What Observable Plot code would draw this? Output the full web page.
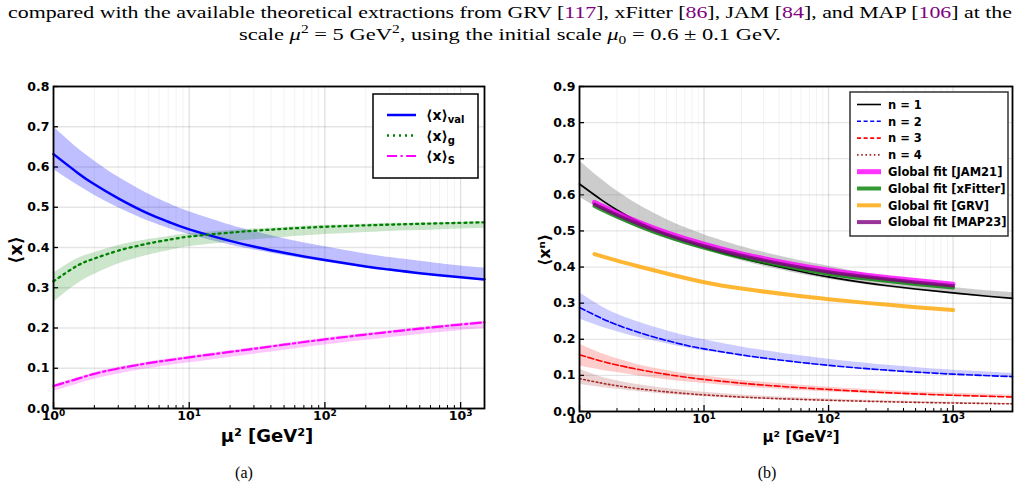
<!DOCTYPE html>
<html>
<head>
<meta charset="utf-8">
<script src="https://cdn.jsdelivr.net/npm/d3@7"></script>
<script src="https://cdn.jsdelivr.net/npm/@observablehq/plot@0.6"></script>
<style>
  body { margin: 0; background: #fff; }
  #page { position: relative; width: 1020px; height: 491px; overflow: hidden; background: #fff; }
  .panel { position: absolute; top: 0; width: 510px; height: 491px; }
  #panelA { left: 0; }
  #panelB { left: 510px; }
  #text { position: absolute; left: 0; top: 0; }
</style>
</head>
<body>
<div id="page">
  <div class="panel" id="panelA"></div>
  <div class="panel" id="panelB"></div>
  <svg id="text" width="1020" height="491"></svg>
</div>
<script>
// ---------- Panel (a): momentum fractions vs. scale ----------
const muA = [1, 1.5, 2, 3, 5, 7, 10, 20, 30, 50, 100, 200, 300, 500, 1000, 1500];
const valMean = [0.632, 0.586, 0.557, 0.522, 0.484, 0.464, 0.445, 0.4164, 0.4023, 0.3868, 0.3687, 0.353, 0.3451, 0.3362, 0.326, 0.3207];
const valHigh = [0.700, 0.647, 0.615, 0.575, 0.533, 0.510, 0.489, 0.456, 0.440, 0.422, 0.4018, 0.384, 0.375, 0.366, 0.354, 0.349];
const valLow  = [0.594, 0.555, 0.530, 0.499, 0.466, 0.448, 0.432, 0.406, 0.394, 0.380, 0.364, 0.349, 0.341, 0.333, 0.324, 0.319];
const gluMean = [0.316, 0.355, 0.3725, 0.392, 0.410, 0.419, 0.427, 0.437, 0.4416, 0.4463, 0.4514, 0.455, 0.4568, 0.4588, 0.4612, 0.4626];
const gluHigh = [0.336, 0.372, 0.387, 0.405, 0.420, 0.427, 0.434, 0.442, 0.446, 0.450, 0.455, 0.458, 0.460, 0.461, 0.463, 0.464];
const gluLow  = [0.264, 0.310, 0.333, 0.359, 0.381, 0.392, 0.402, 0.413, 0.419, 0.425, 0.432, 0.437, 0.440, 0.442, 0.446, 0.4475];
const seaMean = [0.056, 0.0736, 0.0861, 0.0993, 0.1126, 0.1199, 0.127, 0.1406, 0.1485, 0.1585, 0.1717, 0.1837, 0.1904, 0.1984, 0.2086, 0.2139];
const seaHigh = [0.059, 0.0766, 0.0891, 0.1023, 0.1156, 0.1229, 0.130, 0.1436, 0.1515, 0.1615, 0.1747, 0.1867, 0.1934, 0.2014, 0.2116, 0.2169];
const seaLow  = [0.043, 0.0605, 0.0729, 0.086, 0.0992, 0.1064, 0.1134, 0.1268, 0.1346, 0.1445, 0.1575, 0.1694, 0.176, 0.1839, 0.194, 0.1989];

// ---------- Panel (b): moments <x^n> vs. scale, with global fits ----------
const muB = [1, 1.5, 2, 3, 5, 7, 10, 20, 30, 50, 100, 200, 300, 500, 1000, 2000, 3000];
const n1Mean = [0.630, 0.586, 0.558, 0.5246, 0.4902, 0.472, 0.455, 0.4249, 0.4099, 0.3933, 0.3728, 0.3562, 0.3481, 0.3392, 0.3284, 0.3185, 0.3132];
const n1High = [0.694, 0.643, 0.6105, 0.5718, 0.5318, 0.5099, 0.4898, 0.4567, 0.4409, 0.4231, 0.402, 0.381, 0.370, 0.358, 0.3435, 0.3339, 0.3295];
const n1Low  = [0.593, 0.5578, 0.5353, 0.5071, 0.4782, 0.4621, 0.4474, 0.4173, 0.4023, 0.3856, 0.366, 0.3509, 0.3433, 0.3349, 0.325, 0.316, 0.311];
const n2Mean = [0.288, 0.2581, 0.240, 0.2189, 0.1967, 0.1843, 0.1735, 0.1566, 0.1482, 0.1389, 0.1278, 0.1188, 0.1142, 0.1091, 0.1034, 0.0989, 0.0966];
const n2High = [0.329, 0.2911, 0.270, 0.2469, 0.2237, 0.2103, 0.1985, 0.1786, 0.1692, 0.1579, 0.1448, 0.1338, 0.1282, 0.1221, 0.1144, 0.1089, 0.1056];
const n2Low  = [0.256, 0.2341, 0.221, 0.2049, 0.1877, 0.1773, 0.168, 0.1526, 0.1447, 0.1359, 0.125, 0.1162, 0.1117, 0.1067, 0.1012, 0.0969, 0.0946];
const n3Mean = [0.157, 0.1394, 0.1288, 0.1161, 0.1028, 0.0955, 0.0888, 0.0783, 0.0732, 0.0676, 0.061, 0.055, 0.052, 0.0487, 0.0448, 0.0418, 0.0402];
const n3High = [0.186, 0.1604, 0.1458, 0.1291, 0.1138, 0.1055, 0.0983, 0.0863, 0.0807, 0.0746, 0.0675, 0.061, 0.058, 0.0542, 0.0503, 0.0473, 0.0457];
const n3Low  = [0.126, 0.1144, 0.1078, 0.0981, 0.0878, 0.0825, 0.0778, 0.0688, 0.0642, 0.0596, 0.054, 0.0495, 0.047, 0.0447, 0.0418, 0.0398, 0.0387];
const n4Mean = [0.091, 0.0787, 0.0714, 0.0629, 0.0545, 0.050, 0.046, 0.040, 0.0372, 0.0343, 0.031, 0.0283, 0.0269, 0.0253, 0.0235, 0.022, 0.0212];
const n4High = [0.117, 0.0957, 0.0854, 0.0739, 0.0635, 0.058, 0.053, 0.0455, 0.0422, 0.0385, 0.0345, 0.0313, 0.0296, 0.0277, 0.0255, 0.0237, 0.0227];
const n4Low  = [0.0756, 0.0667, 0.0619, 0.0549, 0.048, 0.0445, 0.041, 0.0358, 0.0334, 0.0309, 0.028, 0.0257, 0.0245, 0.0231, 0.0215, 0.0203, 0.0197];

const muFit = [1.32, 1.5, 2, 3, 5, 10, 20, 50, 100, 200, 500, 1000];
const fitJAM21   = [0.579, 0.5696, 0.5496, 0.524, 0.4956, 0.4631, 0.4366, 0.4087, 0.3912, 0.3777, 0.3626, 0.3527];
const fitXFitter = [0.569, 0.5596, 0.5396, 0.514, 0.4856, 0.4536, 0.4271, 0.3992, 0.3817, 0.3682, 0.3531, 0.3432];
const fitGRV     = [0.436, 0.4302, 0.4177, 0.4015, 0.382, 0.3579, 0.3404, 0.3225, 0.311, 0.3008, 0.2889, 0.2808];
const fitMAP23   = [0.574, 0.5646, 0.5446, 0.519, 0.4906, 0.4583, 0.4318, 0.4039, 0.3864, 0.373, 0.3579, 0.348];

// ---------- ticks ----------
const xMajorA = [1, 10, 100, 1000];
const xMajorB = [1, 10, 100, 1000];
const xMinorA = [2,3,4,5,6,7,8,9,20,30,40,50,60,70,80,90,200,300,400,500,600,700,800,900];
const xMinorB = [...xMinorA, 2000, 3000];
const yTicksA = [0, 0.1, 0.2, 0.3, 0.4, 0.5, 0.6, 0.7, 0.8];
const yTicksB = [0, 0.1, 0.2, 0.3, 0.4, 0.5, 0.6, 0.7, 0.8, 0.9];
const powLabel = d => "10^" + Math.round(Math.log10(d));

const rows = (xs, cols) => xs.map((x, i) => {
  const r = {mu: x};
  for (const k in cols) r[k] = cols[k][i];
  return r;
});

const curve = "natural";
const dotted = "2,4";

// shared frame: grid, inward ticks, tick labels
function axes({w, h, m, xMajor, xMinor, yTicks}) {
  const pw = w - m.left - m.right, ph = h - m.top - m.bottom;
  return [
    Plot.gridX(xMinor, {stroke: "#000", strokeOpacity: 0.05, strokeWidth: 1}),
    Plot.gridX(xMajor, {stroke: "#000", strokeOpacity: 0.13, strokeWidth: 1.2}),
    Plot.gridY(yTicks, {stroke: "#000", strokeOpacity: 0.1, strokeWidth: 1.3}),
    Plot.tickY(yTicks, {y: d => d, stroke: "#000", strokeWidth: 1.3, insetRight: pw - 5}),
    Plot.tickX(xMajor, {x: d => d, stroke: "#000", strokeWidth: 1.3, insetTop: ph - 6}),
    Plot.tickX(xMinor, {x: d => d, stroke: "#000", strokeWidth: 1, insetTop: ph - 3}),
    Plot.axisY(yTicks, {tickSize: 0, tickPadding: 4, tickFormat: d3.format(".1f"), label: null}),
    Plot.axisX(xMajor, {tickSize: 0, tickPadding: 3, tickFormat: powLabel, label: null})
  ];
}

// turn "10^k" tick labels into a base with a raised exponent
function superscriptTicks(svg) {
  d3.select(svg).selectAll('g[aria-label="x-axis tick label"] text').each(function () {
    const [base, exp] = this.textContent.split("^");
    const el = d3.select(this).text(base);
    el.append("tspan").attr("dy", "-0.45em").attr("font-size", "9px").text(exp);
  });
}

const fontStyle = {fontFamily: "DejaVu Sans", fontWeight: "bold", fontSize: "12.5px", background: "transparent", overflow: "visible"};

// ---- panel (a) ----
const mA = {left: 53, right: 26, top: 86, bottom: 83};
const dataVal = rows(muA, {mean: valMean, lo: valLow, hi: valHigh});
const dataGlu = rows(muA, {mean: gluMean, lo: gluLow, hi: gluHigh});
const dataSea = rows(muA, {mean: seaMean, lo: seaLow, hi: seaHigh});

const svgA = Plot.plot({
  width: 510, height: 491,
  marginLeft: mA.left, marginRight: mA.right, marginTop: mA.top, marginBottom: mA.bottom,
  x: {type: "log", domain: [1, 1500], label: null},
  y: {domain: [0, 0.8], label: null},
  style: fontStyle,
  marks: [
    ...axes({w: 510, h: 491, m: mA, xMajor: xMajorA, xMinor: xMinorA, yTicks: yTicksA}),
    Plot.areaY(dataVal, {x: "mu", y1: "lo", y2: "hi", fill: "blue", fillOpacity: 0.25, curve}),
    Plot.areaY(dataGlu, {x: "mu", y1: "lo", y2: "hi", fill: "green", fillOpacity: 0.2, curve}),
    Plot.areaY(dataSea, {x: "mu", y1: "lo", y2: "hi", fill: "magenta", fillOpacity: 0.22, curve}),
    Plot.line(dataVal, {x: "mu", y: "mean", stroke: "blue", strokeWidth: 2.5, curve}),
    Plot.line(dataGlu, {x: "mu", y: "mean", stroke: "green", strokeWidth: 2.3, strokeDasharray: dotted, curve}),
    Plot.line(dataSea, {x: "mu", y: "mean", stroke: "magenta", strokeWidth: 2.2, strokeDasharray: "10,3.5,2.2,3.5", curve}),
    Plot.frame({stroke: "#000", strokeWidth: 1.8})
  ]
});
superscriptTicks(svgA);
document.getElementById("panelA").appendChild(svgA);

// ---- panel (b) ----
const mB = {left: 69, right: 8, top: 86, bottom: 80};
const dN1 = rows(muB, {mean: n1Mean, lo: n1Low, hi: n1High});
const dN2 = rows(muB, {mean: n2Mean, lo: n2Low, hi: n2High});
const dN3 = rows(muB, {mean: n3Mean, lo: n3Low, hi: n3High});
const dN4 = rows(muB, {mean: n4Mean, lo: n4Low, hi: n4High});
const dFit = rows(muFit, {jam: fitJAM21, xf: fitXFitter, grv: fitGRV, map: fitMAP23});

const svgB = Plot.plot({
  width: 510, height: 491,
  marginLeft: mB.left, marginRight: mB.right, marginTop: mB.top, marginBottom: mB.bottom,
  x: {type: "log", domain: [1, 3000], label: null},
  y: {domain: [0, 0.9], label: null},
  style: fontStyle,
  marks: [
    ...axes({w: 510, h: 491, m: mB, xMajor: xMajorB, xMinor: xMinorB, yTicks: yTicksB}),
    Plot.areaY(dN1, {x: "mu", y1: "lo", y2: "hi", fill: "gray", fillOpacity: 0.4, curve}),
    Plot.areaY(dN2, {x: "mu", y1: "lo", y2: "hi", fill: "blue", fillOpacity: 0.2, curve}),
    Plot.areaY(dN3, {x: "mu", y1: "lo", y2: "hi", fill: "red", fillOpacity: 0.2, curve}),
    Plot.areaY(dN4, {x: "mu", y1: "lo", y2: "hi", fill: "brown", fillOpacity: 0.2, curve}),
    Plot.line(dN1, {x: "mu", y: "mean", stroke: "black", strokeWidth: 1.6, curve}),
    Plot.line(dN2, {x: "mu", y: "mean", stroke: "blue", strokeWidth: 1.6, strokeDasharray: "6,2.6", curve}),
    Plot.line(dN3, {x: "mu", y: "mean", stroke: "red", strokeWidth: 1.6, strokeDasharray: "6,2.6", curve}),
    Plot.line(dN4, {x: "mu", y: "mean", stroke: "brown", strokeWidth: 1.6, strokeDasharray: "1.6,2.6", curve}),
    Plot.line(dFit, {x: "mu", y: "jam", stroke: "magenta", strokeOpacity: 0.8, strokeWidth: 5, curve}),
    Plot.line(dFit, {x: "mu", y: "xf", stroke: "green", strokeOpacity: 0.8, strokeWidth: 4, curve}),
    Plot.line(dFit, {x: "mu", y: "grv", stroke: "orange", strokeOpacity: 0.8, strokeWidth: 4, curve}),
    Plot.line(dFit, {x: "mu", y: "map", stroke: "purple", strokeOpacity: 0.8, strokeWidth: 3.5, curve}),
    Plot.frame({stroke: "#000", strokeWidth: 1.8})
  ]
});
superscriptTicks(svgB);
document.getElementById("panelB").appendChild(svgB);

// ---------- labels, legends, captions ----------
const t = d3.select("#text");
const bold = "DejaVu Sans";

// axis titles
function xTitle(x, size) {
  t.append("text").attr("x", x).attr("y", 442).attr("text-anchor", "middle")
    .attr("font-family", bold).attr("font-weight", "bold").attr("font-size", size)
    .text("μ² [GeV²]");
}
xTitle(267, 18);
xTitle(801, 15);
function yTitle(x, size, label) {
  t.append("text").attr("transform", `translate(${x},250) rotate(-90)`)
    .attr("text-anchor", "middle").attr("dominant-baseline", "central")
    .attr("font-family", bold).attr("font-weight", "bold").attr("font-size", size)
    .text(label);
}
yTitle(15, 18, "⟨x⟩");
yTitle(544, 16, "⟨xⁿ⟩");

// legend (a)
t.append("rect").attr("x", 373).attr("y", 94).attr("width", 105).attr("height", 84)
  .attr("fill", "#fff").attr("stroke", "#000").attr("stroke-width", 1.5);
const legA = [
  {sub: "val", stroke: "blue", w: 2.5, dash: null},
  {sub: "g", stroke: "green", w: 2.3, dash: dotted},
  {sub: "S", stroke: "magenta", w: 2.2, dash: "10,3.5,2.2,3.5"}
];
legA.forEach((d, i) => {
  const y = 115 + i * 20.5;
  t.append("line").attr("x1", 387).attr("x2", 416).attr("y1", y).attr("y2", y)
    .attr("stroke", d.stroke).attr("stroke-width", d.w).attr("stroke-dasharray", d.dash);
  const tx = t.append("text").attr("x", 426).attr("y", y + 5)
    .attr("font-family", bold).attr("font-weight", "bold").attr("font-size", 14);
  tx.append("tspan").text("⟨x⟩");
  tx.append("tspan").attr("dy", 3).attr("font-size", 10).text(d.sub);
});

// legend (b)
t.append("rect").attr("x", 850).attr("y", 92).attr("width", 158).attr("height", 144)
  .attr("fill", "#fff").attr("stroke", "#333").attr("stroke-width", 1.5);
const legB = [
  {label: "n = 1", stroke: "black", w: 1.6, dash: null, op: 1},
  {label: "n = 2", stroke: "blue", w: 1.6, dash: "4,2.6", op: 1},
  {label: "n = 3", stroke: "red", w: 1.6, dash: "4,2.6", op: 1},
  {label: "n = 4", stroke: "brown", w: 1.6, dash: "1.6,2.6", op: 1},
  {label: "Global fit [JAM21]", stroke: "magenta", w: 5, dash: null, op: 0.8},
  {label: "Global fit [xFitter]", stroke: "green", w: 4, dash: null, op: 0.8},
  {label: "Global fit [GRV]", stroke: "orange", w: 4, dash: null, op: 0.8},
  {label: "Global fit [MAP23]", stroke: "purple", w: 4, dash: null, op: 0.8}
];
legB.forEach((d, i) => {
  const y = 104.5 + i * 16.8;
  t.append("line").attr("x1", 857).attr("x2", 881).attr("y1", y).attr("y2", y)
    .attr("stroke", d.stroke).attr("stroke-opacity", d.op).attr("stroke-width", d.w)
    .attr("stroke-dasharray", d.dash);
  t.append("text").attr("x", 888).attr("y", y + 4.3)
    .attr("font-family", bold).attr("font-weight", "bold").attr("font-size", 11.5)
    .text(d.label);
});

// caption lines above the figure
const serif = "Liberation Serif";
const cite = "#800080";
const l1 = t.append("text").attr("x", 8).attr("y", 18).attr("textLength", 1004)
  .attr("lengthAdjust", "spacingAndGlyphs").attr("font-family", serif).attr("font-size", 17.5);
[["compared with the available theoretical extractions from GRV [", null], ["117", cite], ["], xFitter [", null],
 ["86", cite], ["], JAM [", null], ["84", cite], ["], and MAP [", null], ["106", cite], ["] at the", null]]
  .forEach(([s, c]) => l1.append("tspan").attr("fill", c || "#000").text(s));

const l2 = t.append("text").attr("x", 239).attr("y", 40).attr("textLength", 542)
  .attr("lengthAdjust", "spacingAndGlyphs").attr("font-family", serif).attr("font-size", 17.5);
l2.append("tspan").text("scale ");
l2.append("tspan").attr("font-style", "italic").text("μ");
l2.append("tspan").attr("dy", -7).attr("font-size", 12).text("2");
l2.append("tspan").attr("dy", 7).text(" = 5 GeV");
l2.append("tspan").attr("dy", -7).attr("font-size", 12).text("2");
l2.append("tspan").attr("dy", 7).text(", using the initial scale ");
l2.append("tspan").attr("font-style", "italic").text("μ");
l2.append("tspan").attr("dy", 4).attr("font-size", 12).text("0");
l2.append("tspan").attr("dy", -4).text(" = 0.6 ± 0.1 GeV.");

// sub-figure captions
[["(a)", 244], ["(b)", 767]].forEach(([s, x]) =>
  t.append("text").attr("x", x).attr("y", 478).attr("text-anchor", "middle")
    .attr("font-family", serif).attr("font-size", 16).text(s));
</script>
</body>
</html>
